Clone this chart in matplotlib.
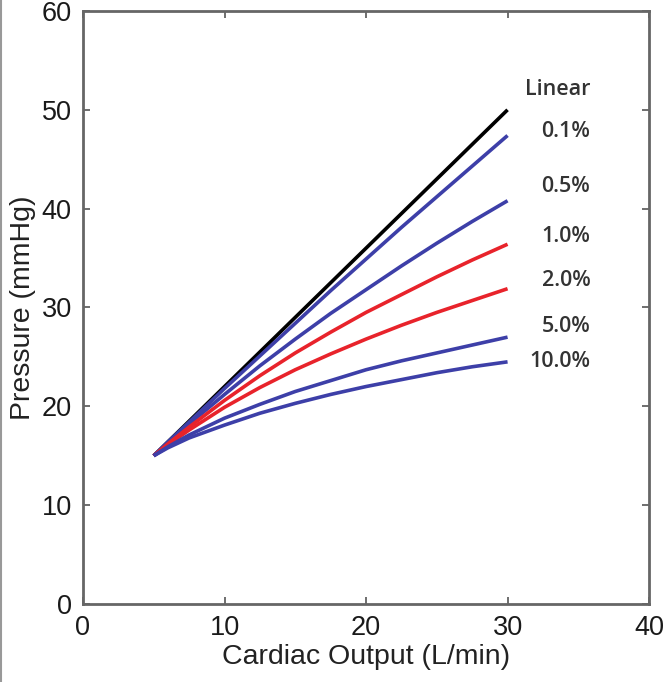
import numpy as np
import matplotlib.pyplot as plt
from matplotlib.lines import Line2D

# cardiac output (L/min)
flow = [5, 6, 7.5, 10, 12.5, 15, 17.5, 20, 22.5, 25, 27.5, 30]

# pulmonary pressure (mmHg) for each distensibility
p_linear = [15.0, 16.4, 18.5, 22.0, 25.5, 29.0, 32.5, 36.0, 39.5, 43.0, 46.5, 50.0]
p_01 = [15.0, 16.4, 18.4, 21.8, 25.1, 28.4, 31.7, 34.9, 38.1, 41.2, 44.3, 47.4]
p_05 = [15.0, 16.3, 18.2, 21.2, 24.1, 26.8, 29.4, 31.8, 34.2, 36.5, 38.7, 40.8]
p_10 = [15.0, 16.2, 17.9, 20.6, 23.1, 25.4, 27.5, 29.5, 31.3, 33.1, 34.8, 36.4]
p_20 = [15.0, 16.1, 17.6, 19.9, 21.9, 23.7, 25.3, 26.8, 28.2, 29.5, 30.7, 31.9]
p_50 = [15.0, 15.9, 17.1, 18.8, 20.2, 21.5, 22.6, 23.7, 24.6, 25.4, 26.2, 27.0]
p_100 = [15.0, 15.8, 16.8, 18.1, 19.3, 20.3, 21.2, 22.0, 22.7, 23.4, 24.0, 24.5]

labels = ['Linear', '0.1%', '0.5%', '1.0%', '2.0%', '5.0%', '10.0%']
label_y = [52.1, 47.8, 42.2, 37.2, 32.7, 28.1, 24.5]

series = [p_linear, p_01, p_05, p_10, p_20, p_50, p_100]
colors = ['black', '#3d3fa8', '#3d3fa8', '#e8232b', '#e8232b', '#3d3fa8', '#3d3fa8']

plt.rcParams['font.family'] = ['Liberation Sans', 'DejaVu Sans']

fig = plt.figure(figsize=(6.66, 6.82), dpi=100)
ax = fig.add_axes([0.1246, 0.1144, 0.85, 0.8695])

for p, c in zip(series, colors):
    ax.plot(flow, p, color=c, lw=2.6, solid_capstyle='butt', solid_joinstyle='round')

for lab, y in zip(labels, label_y):
    ax.text(35.85, y, lab, ha='right', va='center', fontsize=15.5,
            fontweight='semibold', color='#333333',
            family=['Open Sans', 'DejaVu Sans'])

ax.set_xlim(0, 40)
ax.set_ylim(0, 60)
ax.set_xticks([0, 10, 20, 30, 40])
ax.set_yticks([0, 10, 20, 30, 40, 50, 60])
ax.set_xlabel('Cardiac Output (L/min)', fontsize=20.5, color='#222222', labelpad=2)
ax.set_ylabel('Pressure (mmHg)', fontsize=20.5, color='#222222', labelpad=4)
ax.tick_params(direction='in', length=5, width=1.2, colors='#555555',
               top=True, right=True, labelsize=19.5, labelcolor='#1a1a1a')
ax.tick_params(axis='x', pad=8)
ax.tick_params(axis='y', pad=8)
for s in ax.spines.values():
    s.set_color('#666666')
    s.set_linewidth(2)

# thin grey edge on the left of the picture
fig.add_artist(Line2D([0.0015, 0.0015], [0, 1], color='#999999', lw=1.5,
                      transform=fig.transFigure))

fig.savefig('out.png', dpi=100)
